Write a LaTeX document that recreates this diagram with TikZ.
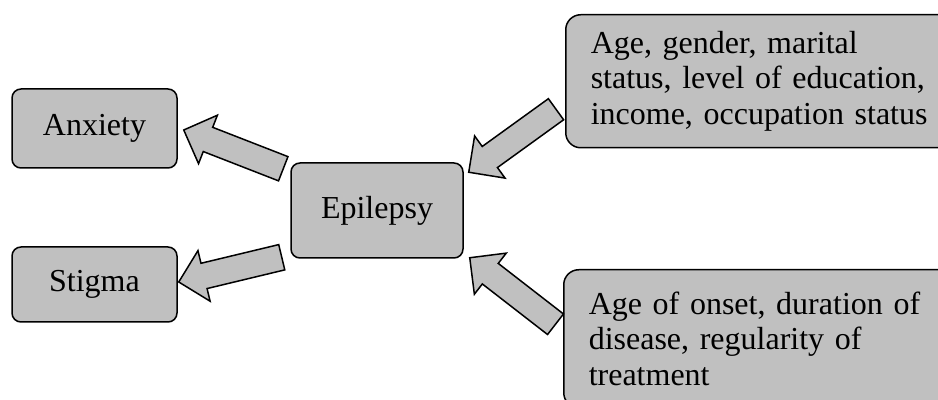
\documentclass[tikz,border=0pt]{standalone}
\usepackage{fontspec}
\setmainfont{Liberation Serif}
\usepackage{tikz}
\usetikzlibrary{positioning,calc}
\definecolor{boxgray}{RGB}{192,192,192}
% fat grey arrow from #1 (tail) to #2 (tip)
\newcommand{\blockarrow}[2]{%
  \coordinate (headbase) at ($(#2)!13pt!(#1)$);
  \draw[blockarr] ($(#1)!6.5pt!90:(#2)$) -- ($(headbase)!6.5pt!90:(#2)$) -- ($(headbase)!13pt!90:(#2)$)
    -- (#2) -- ($(headbase)!13pt!-90:(#2)$) -- ($(headbase)!6.5pt!-90:(#2)$) -- ($(#1)!6.5pt!-90:(#2)$) -- cycle;}

\begin{document}
\begin{tikzpicture}[
  x=0.5pt, y=-0.5pt,
  font=\fontsize{16}{17.75}\selectfont,
  box/.style={draw, line width=0.75pt, rounded corners=4.5pt, fill=boxgray, align=center, minimum width=82.5pt, minimum height=39.5pt, inner sep=0pt},
  factor/.style={draw, line width=0.75pt, rounded corners=7.5pt, fill=boxgray, align=left, text width=175pt, inner xsep=12.5pt, inner ysep=0pt, anchor=north west},
  blockarr/.style={draw, line width=0.75pt, fill=boxgray, line join=miter},
]
\useasboundingbox (0,0) rectangle (938,400);
\clip (0,0) rectangle (938,400);
% central node and outcomes
\node[box, minimum width=86pt, minimum height=47.5pt] (epi) at (377,210.5) {Epilepsy};
\node[box] (anx) at (94.5,128.5) {Anxiety};
\node[box, minimum height=37.5pt] (stig) at (94.5,284.5) {Stigma};
% factors
\node[factor, minimum height=66.5pt] (demo) at (565,14) {Age, gender, marital\\status, level of education,\\income, occupation status};
\node[factor, minimum height=69pt] (clin) at (563,269) {Age of onset, duration of\\disease, regularity of\\treatment};
% arrow ends
\coordinate (anxtail) at ($(epi.north west)+(-7,6.5)$);
\coordinate (anxtip) at ($(anx.east)+(6,1.5)$);
\coordinate (stigtail) at ($(epi.south west)+(-8.5,-1.5)$);
\coordinate (stigtip) at ($(stig.east)+(1,-2.5)$);
\coordinate (demotail) at ($(demo.west)+(-9,28)$);
\coordinate (demotip) at ($(epi.north east)+(5,10)$);
\coordinate (clintail) at ($(clin.west)+(-7.5,-14.5)$);
\coordinate (clintip) at ($(epi.south east)+(6,-1)$);
% arrows
\blockarrow{anxtail}{anxtip}
\blockarrow{stigtail}{stigtip}
\blockarrow{demotail}{demotip}
\blockarrow{clintail}{clintip}
\end{tikzpicture}
\end{document}
